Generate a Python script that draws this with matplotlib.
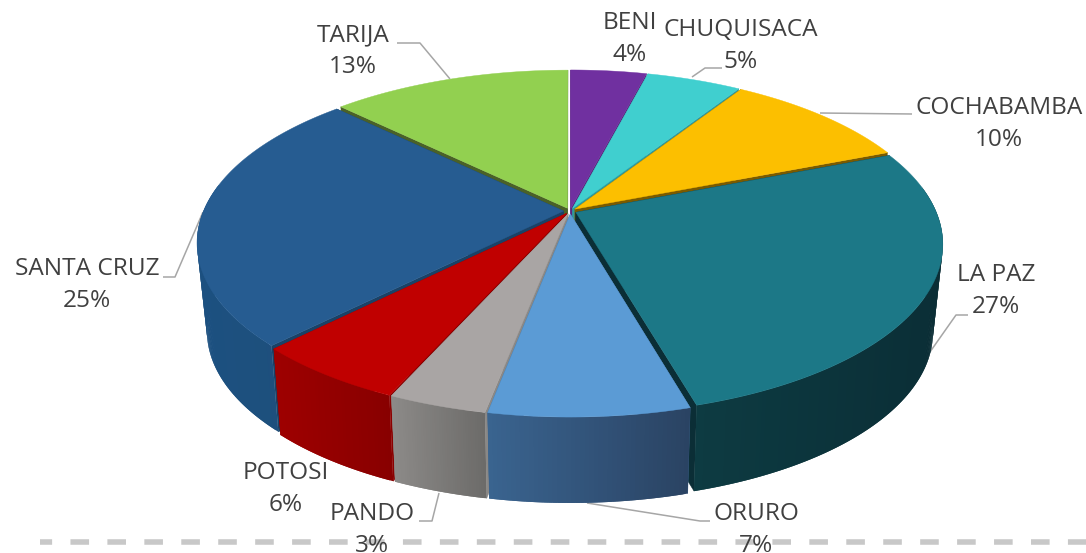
import numpy as np
import matplotlib
matplotlib.use("Agg")
import matplotlib.pyplot as plt
from matplotlib.colors import to_rgb

plt.rcParams['font.family'] = ['Open Sans', 'DejaVu Sans']

categories = ["BENI", "CHUQUISACA", "COCHABAMBA", "LA PAZ", "ORURO", "PANDO", "POTOSI", "SANTA CRUZ", "TARIJA"]
pct_labels = ["4%", "5%", "10%", "27%", "7%", "3%", "6%", "25%", "13%"]
values = [4.0, 5.0, 10.0, 26.6, 7.4, 3.65, 5.75, 24.95, 12.65]

top_colors = ["#7030A0", "#40CFCF", "#FCBF00", "#1C7887", "#5B9BD5", "#A9A5A4", "#C00000", "#265C91", "#92D050"]
wall_colors = ["#5a2680", "#2F9A9C", "#7A5A00", "#0B2E36", "#3D6690", "#8A8886", "#8B0000", "#1A4267", "#4A6128"]
side_left = ["#5a2680", "#2F9A9C", "#7A5A00", "#0D3B42", "#3A6490", "#8C8A88", "#9E0000", "#1C5080", "#4A6128"]
side_right = ["#5a2680", "#2F9A9C", "#7A5A00", "#0B2E36", "#2A4363", "#6C6B69", "#880000", "#1F4F7A", "#4A6128"]

label_pos = [(630, 23), (741, 30), (999, 108), (996, 275), (756, 514), (372, 514), (286, 473), (87, 269), (353, 35)]
leaders = [
    None,
    [(692, 77), (705, 68), (722, 68)],
    [(820, 113), (912, 114)],
    [(918, 369), (956, 315), (968, 315)],
    [(587, 503), (700, 521), (710, 521)],
    [(419, 521), (432, 521), (439, 493)],
    None,
    [(163, 277), (175, 277), (203, 212)],
    [(397, 43), (420, 43), (450, 79)],
]

CX = 570.0
EXPLODE = 0.018
TOP = dict(b=360.0, a=164.5, k=0.184, y=211.0)
LOW = dict(b=350.0, a=162.0, k=0.19, y=298.5)


def project(u, v, p):
    w = 1 + p['k'] * v
    return CX + p['b'] * u / w, p['y'] - p['a'] * v / w


fig = plt.figure(figsize=(10.86, 5.53), dpi=100)
ax = fig.add_axes([0, 0, 1, 1])
ax.set_xlim(0, 1086)
ax.set_ylim(553, 0)
ax.axis('off')

ax.plot([40, 1086], [542, 542], color="#C8C8C8", lw=4.0, linestyle=(1.17, (3.35, 3.3)),
        dash_capstyle='butt', zorder=1)

for pts in leaders:
    if pts:
        xs, ys = zip(*pts)
        ax.plot(xs, ys, color="#A6A6A6", lw=1.1, zorder=1.5, solid_capstyle='butt')

fr = np.array(values, float) / sum(values)
edges = np.concatenate([[0], np.cumsum(fr)]) * 2 * np.pi
slices = []
for i in range(len(values)):
    t0, t1 = edges[i], edges[i + 1]
    mid = (t0 + t1) / 2
    slices.append((np.cos(mid), i, t0, t1, mid))
slices.sort(key=lambda s: -s[0])

z = 2.0
for _, i, t0, t1, mid in slices:
    ou, ov = EXPLODE * np.sin(mid), EXPLODE * np.cos(mid)
    n = max(40, int(fr[i] * 600))
    ts = np.linspace(t0, t1, n + 1)
    us, vs = ou + np.sin(ts), ov + np.cos(ts)
    ax_top = project(us, vs, TOP)
    ax_low = project(us, vs, LOW)
    apex_top = project(ou, ov, TOP)
    apex_low = project(ou, ov, LOW)
    # radial walls
    for j in (0, -1):
        ax.fill([apex_top[0], ax_top[0][j], ax_low[0][j], apex_low[0]],
                [apex_top[1], ax_top[1][j], ax_low[1][j], apex_low[1]],
                color=wall_colors[i], lw=0.3, zorder=z)
    # outer side, shaded left to right on screen; each strip overlaps the next to hide seams
    c0, c1 = np.array(to_rgb(side_left[i])), np.array(to_rgb(side_right[i]))
    xr = ax_top[0]
    span = max(xr.max() - xr.min(), 1)
    idx = [j for j in range(n) if vs[j] + vs[j + 1] <= 0.3]
    for j in idx:
        e = min(j + 2, n)
        f = ((xr[j] + xr[j + 1]) / 2 - xr.min()) / span
        col = c0 + (c1 - c0) * f
        ax.fill(np.r_[ax_top[0][j:e + 1], ax_low[0][j:e + 1][::-1]],
                np.r_[ax_top[1][j:e + 1], ax_low[1][j:e + 1][::-1]],
                color=col, lw=0, zorder=z + 0.1 + 0.0001 * j)
    # top face
    ax.fill(np.r_[apex_top[0], ax_top[0]], np.r_[apex_top[1], ax_top[1]],
            color=top_colors[i], lw=0.3, zorder=z + 0.2)
    z += 1

for name, pct, (x, y) in zip(categories, pct_labels, label_pos):
    ax.text(x, y, name, ha='center', va='center', fontsize=17.6, color="#404040", zorder=30)
    ax.text(x, y + 32, pct, ha='center', va='center', fontsize=17.6, color="#404040", zorder=30)

fig.savefig("out.png", dpi=100)
